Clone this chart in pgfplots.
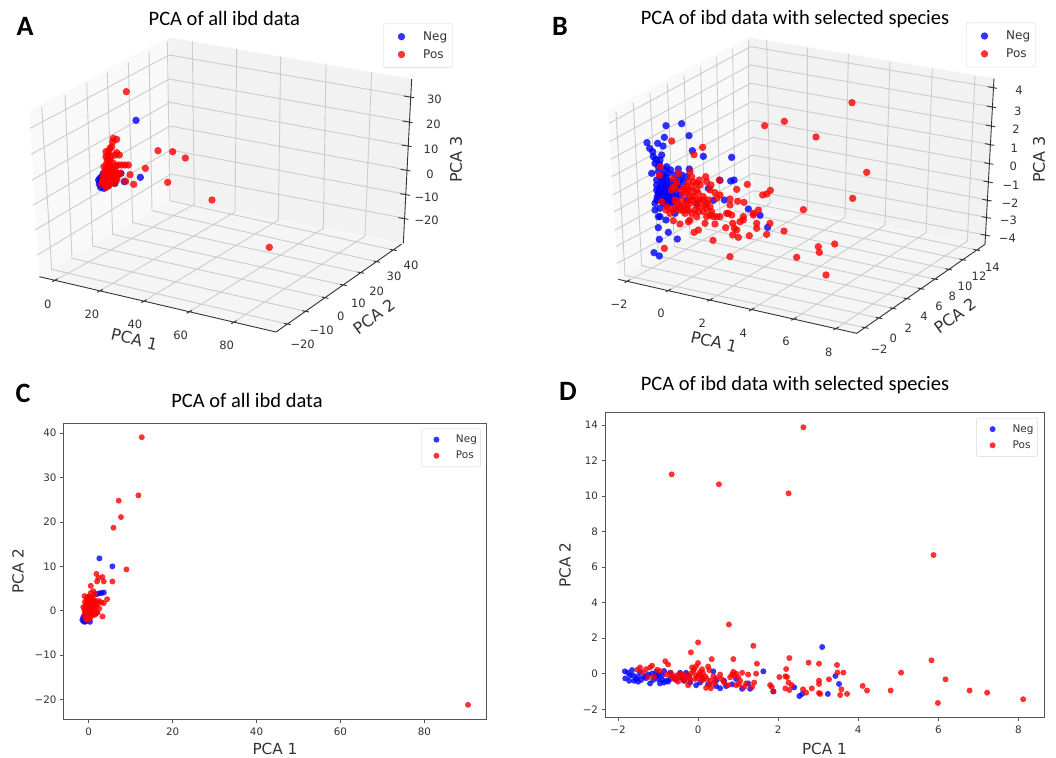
\documentclass[border=0pt]{standalone}
\usepackage{fontspec}
\usepackage{pgfplots}
\pgfplotsset{compat=1.18}
\setmainfont{DejaVu Sans}
\newfontfamily\calib{Carlito}
\definecolor{gridc}{HTML}{CCCCCC}
\definecolor{spine}{HTML}{555555}
\definecolor{tickc}{HTML}{333333}
\newcommand{\fs}[1]{\fontsize{#1}{#1}\selectfont}
\pgfplotsset{
  neg/.style={only marks, mark=*, color=blue, mark options={draw opacity=0, fill opacity=.8}},
  pos/.style={only marks, mark=*, color=red, mark options={draw opacity=0, fill opacity=.8}},
  lgd/.style n args={3}{legend cell align=left,
    legend image code/.code={\path[draw=none, fill=none] (0pt,-2pt) rectangle (#2,2pt); \draw[##1] plot coordinates {(#3,0pt)};},
    legend style={draw=black!16, rounded corners=2pt, font=\fs{#1}\color{tickc}, anchor=north east}},
  threed/.style={scale only axis, axis lines=none, y dir=reverse, clip=false, unbounded coords=jump,
    ymin=0, ymax=1110, xmin=0, height=370pt, anchor=south west},
  flat/.style={scale only axis, anchor=south west, axis line style={spine, line width=.9pt},
    tick style={spine, line width=.7pt}, major tick length=3.5pt, tick pos=left, tick align=outside,
    tick label style={font=\fs{10.3}\color{tickc}}, label style={font=\fs{15.3}\color{tickc}},
    xticklabel style={yshift=-1.5pt}},
  pane/.style={draw=none, fill=#1, forget plot},
  gl/.style={gridc, line width=.9pt, forget plot},
  ax/.style={tickc, line width=.9pt, forget plot},
}
\begin{document}
\begin{tikzpicture}
\fill[white] (0,0) rectangle (1056pt,-757pt);
\useasboundingbox (0,0) rectangle (1056pt,-757pt);

%%%%%% Panel A
\begin{axis}[threed, at={(0pt,-370pt)}, width=480pt, xmax=1440, lgd={12}{34.4pt}{14.7pt},
  legend style={at={(axis cs:1358,70)}, inner xsep=3.3pt, inner ysep=6pt, row sep=3.6pt}]
\addplot[pane=black!2.5] coordinates {(118,830)(88,332)(505,112)(515,600)} --cycle;
\addplot[pane=black!5] coordinates {(515,600)(505,112)(1235,237)(1210,730)} --cycle;
\addplot[pane=black!3.8] coordinates {(118,830)(515,600)(1205,732)(828,996)} --cycle;
\addplot[gl] coordinates {
(165,841)(583,613)(577,124)(nan,nan)
(300,872)(705,636)(710,147)(nan,nan)
(432,903)(835,660)(842,170)(nan,nan)
(568,935)(970,685)(978,193)(nan,nan)
(702,966)(1095,708)(1115,217)(nan,nan)
(862,972)(155,808)(125,320)(nan,nan)
(917,934)(216,775)(195,285)(nan,nan)
(975,893)(278,738)(260,250)(nan,nan)
(1030,855)(338,703)(322,218)(nan,nan)
(1082,818)(398,668)(385,188)(nan,nan)
(1130,785)(456,632)(447,155)(nan,nan)
(1180,750)(510,602)(502,125)(nan,nan)
(90,385)(508,165)(1232,290)(nan,nan)
(93,463)(508,237)(1228,365)(nan,nan)
(96,540)(510,307)(1225,437)(nan,nan)
(100,615)(510,378)(1222,510)(nan,nan)
(105,690)(512,450)(1220,583)(nan,nan)
(112,765)(513,522)(1215,655)
};
\addplot[ax] coordinates {(118,830)(828,996)(1205,732)(nan,nan)(1210,730)(1235,237)(nan,nan)
(157,845)(173,836)(nan,nan)(292,877)(308,868)(nan,nan)(424,908)(440,899)(nan,nan)(560,940)(576,931)(nan,nan)(694,971)(710,962)(nan,nan)
(852,970)(872,974)(nan,nan)(907,932)(927,936)(nan,nan)(965,891)(985,895)(nan,nan)(1020,853)(1040,857)(nan,nan)(1072,816)(1092,820)(nan,nan)(1120,783)(1140,787)(nan,nan)(1170,748)(1190,752)(nan,nan)
(1212,288)(1242,293)(nan,nan)(1208,363)(1238,368)(nan,nan)(1205,435)(1235,440)(nan,nan)(1202,508)(1232,513)(nan,nan)(1200,581)(1230,586)(nan,nan)(1195,653)(1225,658)
};
\addplot[neg, mark size=3.7pt] coordinates {
(300,545)(305,555)(298,552)(315,560)(310,520)(345,550)(363,520)(373,545)(421,532)(408,361)(330,550)(340,545)(305,530)(302,562)(296,540)(350,522)(312,565)(325,556)(300,535)};
\addlegendentry{Neg}
\addplot[pos, mark size=3.7pt] coordinates {
(379,275)(474,452)(518,455)(556,474)(436,505)(503,547)(401,553)(390,524)(377,544)(636,600)(808,742)
(340,415)(350,418)(338,425)(330,445)(318,455)(325,465)(350,458)(358,465)(330,480)(320,490)(340,490)(355,495)(385,495)(365,495)
(318,505)(330,505)(345,510)(315,515)(325,520)(335,520)(350,520)(310,530)(320,530)(330,530)(340,530)(350,530)(310,540)(318,540)
(328,540)(338,540)(345,542)(312,550)(320,550)(330,548)(308,545)(315,555)(355,525)(322,510)(338,500)(312,525)(325,498)(335,510)(318,470)
(326,455)(335,440)(322,478)(312,500)(348,498)(375,495)(360,520)(342,550)(325,558)(350,540)(305,552)(318,562)(326,490)(332,470)(345,465)};
\addlegendentry{Pos}
\foreach \x/\y/\t in {143/912/0,276/943/20,405/973/40,542/1006/60,680/1035/80,
  908/1033/−20,965/992/−10,1022/950/0,1075/910/10,1130/873/20,1182/830/30,1233/795/40,
  1303/298/30,1300/374/20,1293/448/10,1290/522/0,1280/592/−10,1280/662/−20}{
  \edef\tmp{\noexpand\node[font=\noexpand\fs{11.5}, text=tickc] at (axis cs:\x,\y) {\t};}\tmp}
\node[font=\fs{16}, text=tickc, rotate=-13] at (axis cs:403,1018) {PCA 1};
\node[font=\fs{16}, text=tickc, rotate=36] at (axis cs:1122,950) {PCA 2};
\node[font=\fs{16}, text=tickc, rotate=90] at (axis cs:1368,478) {PCA 3};
\node[font=\calib\fs{20.5}] at (axis cs:673,55) {PCA of all ibd data};
\node[font=\calib\bfseries\fs{28}] at (axis cs:75,80) {A};
\end{axis}

%%%%%% Panel B
\begin{axis}[threed, at={(540pt,-370pt)}, width=516pt, xmax=1548, lgd={12}{34.4pt}{14.7pt},
  legend style={at={(axis cs:1487,68)}, inner xsep=3.3pt, inner ysep=6pt, row sep=3.6pt}]
\addplot[pane=black!2.5] coordinates {(235,838)(205,330)(625,112)(640,600)} --cycle;
\addplot[pane=black!5] coordinates {(640,600)(625,112)(1362,235)(1335,733)} --cycle;
\addplot[pane=black!3.8] coordinates {(235,838)(640,600)(1335,733)(950,1000)} --cycle;
\addplot[gl] coordinates {
(262,844)(690,610)(680,121)(nan,nan)
(385,872)(802,632)(802,142)(nan,nan)
(510,900)(915,652)(925,162)(nan,nan)
(635,929)(1035,675)(1050,184)(nan,nan)
(762,957)(1158,698)(1177,205)(nan,nan)
(888,986)(1282,723)(1305,227)(nan,nan)
(975,983)(255,826)(228,335)(nan,nan)
(1017,954)(305,797)(280,308)(nan,nan)
(1059,925)(355,768)(330,280)(nan,nan)
(1101,896)(403,740)(382,252)(nan,nan)
(1143,866)(450,712)(432,225)(nan,nan)
(1184,837)(495,686)(482,200)(nan,nan)
(1226,808)(540,660)(530,172)(nan,nan)
(1268,779)(585,633)(578,147)(nan,nan)
(1310,750)(628,608)(625,122)(nan,nan)
(207,370)(632,140)(1358,262)(nan,nan)
(209,425)(632,195)(1355,320)(nan,nan)
(212,478)(632,250)(1352,377)(nan,nan)
(215,530)(635,305)(1350,433)(nan,nan)
(218,585)(635,360)(1347,490)(nan,nan)
(222,635)(637,412)(1345,545)(nan,nan)
(225,690)(637,465)(1342,600)(nan,nan)
(228,740)(638,520)(1340,652)(nan,nan)
(232,790)(640,572)(1337,705)
};
\addplot[ax] coordinates {(235,838)(950,1000)(1335,733)(nan,nan)(1335,733)(1362,235)(nan,nan)
(254,848)(270,839)(nan,nan)(377,876)(393,867)(nan,nan)(502,904)(518,895)(nan,nan)(627,933)(643,924)(nan,nan)(754,961)(770,952)(nan,nan)(880,990)(896,981)(nan,nan)
(965,981)(985,985)(nan,nan)(1007,952)(1027,956)(nan,nan)(1049,923)(1069,927)(nan,nan)(1091,894)(1111,898)(nan,nan)(1133,864)(1153,868)(nan,nan)(1174,835)(1194,839)(nan,nan)(1216,806)(1236,810)(nan,nan)(1258,777)(1278,781)(nan,nan)(1300,748)(1320,752)(nan,nan)
(1343,260)(1371,265)(nan,nan)(1340,318)(1368,323)(nan,nan)(1337,375)(1365,380)(nan,nan)(1335,431)(1363,436)(nan,nan)(1332,488)(1360,493)(nan,nan)(1330,543)(1358,548)(nan,nan)(1327,598)(1355,603)(nan,nan)(1325,650)(1353,655)(nan,nan)(1322,703)(1350,708)
};
\addplot[neg, mark size=3.7pt] coordinates {
(378,377)(425,371)(447,407)(373,412)(321,428)(329,445)(353,430)(369,438)(457,452)(490,469)(575,472)(340,470)(365,465)(345,490)(360,480)
(335,520)(355,515)(380,500)(415,507)(448,507)(385,520)(350,540)(370,545)(360,560)(380,555)(355,580)(375,575)(395,580)(365,600)(385,600)
(350,600)(345,630)(360,625)(400,590)(430,545)(425,525)(540,541)(572,543)(582,540)(505,565)(520,601)(553,600)(625,627)(660,646)(683,682)
(355,650)(378,660)(355,683)(385,697)(358,718)(412,717)(342,758)(358,768)(365,570)(375,590)(390,560)(350,555)(370,525)(415,620)(405,640)
(345,610)(360,650)(410,560)(440,600)(470,610)(390,610)(420,585)(360,590)(370,610)(385,570)(375,560)(395,600)(350,570)(365,540)(380,540)(400,570)(355,500)
(338,455)(348,478)(358,492)(372,508)(392,510)(405,525)(360,530)(378,530)(392,545)(405,545)(368,555)(358,570)(372,565)(382,582)(392,568)(408,578)(418,560)
(362,580)(372,600)(382,590)(398,610)(410,595)(352,590)(420,540)(440,530)(380,615)};
\addlegendentry{Neg}
\addplot[pos, mark size=3.7pt] coordinates {
(395,423)(488,442)(462,464)(361,500)(358,526)(936,308)(733,364)(674,377)(828,411)(980,517)(938,595)(790,629)(622,553)(691,571)(680,582)(668,585)
(590,568)(570,597)(593,604)(612,607)(540,585)(525,578)(538,540)(513,555)(497,530)(478,540)(450,515)(455,530)(400,535)(415,520)(410,550)(395,570)
(435,565)(455,560)(470,550)(440,580)(460,590)(480,600)(500,610)(480,620)(510,620)(450,610)(430,620)(410,610)(420,630)(440,625)(465,630)(490,635)
(510,645)(540,650)(378,630)(365,605)(380,620)(400,632)(565,640)(570,615)(575,645)(610,650)(640,645)(655,630)(600,665)(650,670)(650,685)(680,703)
(732,693)(690,670)(628,707)(595,712)(578,705)(583,685)(578,670)(557,683)(525,672)(495,670)(475,690)(462,697)(445,665)(450,660)(420,672)(400,662)
(519,721)(570,770)(373,745)(835,740)(838,757)(884,732)(770,772)(858,825)(640,640)(610,660)(560,640)(495,615)(470,570)(445,545)(425,600)(405,600)
(520,650)(500,650)(470,650)(455,640)(435,640)(390,640)(590,690)(430,580)(450,590)(470,600)(490,600)(440,610)(420,615)(400,560)
(445,570)(460,575)(475,580)(490,590)(505,600)(455,600)(470,615)(445,630)(430,632)(415,625)(395,625)(475,635)(500,625)(515,635)(530,650)(425,570)(440,560)
(460,545)(480,555)(500,545)(510,570)(530,595)(405,565)};
\addlegendentry{Pos}
\foreach \x/\y/\t in {237/913/−2,363/940/0,487/970/2,610/1000/4,738/1025/6,866/1057/8,
  1017/1048/−2,1060/1015/0,1105/985/2,1152/950/4,1197/920/6,1237/890/8,1275/860/10,1317/830/12,1357/802/14,
  1437/272/4,1433/333/3,1428/388/2,1423/445/1,1420/500/0,1413/555/−1,1410/610/−2,1405/662/−3,1402/716/−4}{
  \edef\tmp{\noexpand\node[font=\noexpand\fs{11.5}, text=tickc] at (axis cs:\x,\y) {\t};}\tmp}
\node[font=\fs{16}, text=tickc, rotate=-13] at (axis cs:522,1025) {PCA 1};
\node[font=\fs{16}, text=tickc, rotate=36] at (axis cs:1245,948) {PCA 2};
\node[font=\fs{16}, text=tickc, rotate=90] at (axis cs:1497,478) {PCA 3};
\node[font=\calib\fs{20.5}] at (axis cs:765,58) {PCA of ibd data with selected species};
\node[font=\calib\bfseries\fs{28}] at (axis cs:60,80) {B};
\end{axis}

%%%%%% Panel C
\begin{axis}[flat, at={(63.5pt,-719pt)}, width=423pt, height=296pt,
  xmin=-6, xmax=94.8, ymin=-24.4, ymax=42.3,
  xtick={0,20,40,60,80}, xticklabels={0,20,40,60,80},
  ytick={-20,-10,0,10,20,30,40}, yticklabels={−20,−10,0,10,20,30,40},
  xlabel={PCA 1}, ylabel={PCA 2}, xlabel style={yshift=-1pt}, ylabel style={yshift=4pt},
  lgd={10.5}{31pt}{13.5pt}, legend style={at={(axis cs:93.4,41.1)}, inner xsep=1.5pt, inner ysep=4.5pt, row sep=3pt}]
\addplot[neg, mark size=3pt] coordinates {
(-1.5,-2.1)(-1.2,-2.4)(-.9,-2.5)(.3,-2.5)(-1.3,-1.5)(-.8,-1.8)(2.4,3.9)(3.6,4.1)(3,4)(1.8,3.7)(-1,-1)(-.5,-2.3)(2.55,11.8)(5.65,10)};
\addlegendentry{Neg}
\addplot[pos, mark size=3pt] coordinates {
(12.65,39.1)(11.85,26)(7.16,24.8)(7.7,21.1)(5.9,18.7)(9,9.3)(5.65,6.6)(1.83,8.3)(3.26,7.6)(3.6,6.6)(2,6.6)(2.3,7.4)(.5,5.6)(4.4,2.6)(3.6,1.7)(3.3,-1.3)(90.4,-21.2)
(-1.3,.8)(-1,3.3)(-.9,2)(-.8,1)(-.7,.2)(-.6,-.5)(-.9,-1)(-.8,-1.7)(-.5,-2)(-.4,-1.3)(-.3,-.6)(-.2,.3)(-.1,1.2)(0,2.2)(.1,3.2)(.2,-1)(.3,0)(.3,1)(.4,2)(.5,4)
(.7,3)(.8,-.4)(.9,.6)(1,1.6)(1,2.7)(1.1,4.4)(1.2,-.8)(1.3,.3)(1.4,1.4)(1.6,3.8)(1.7,.9)(1.8,2)(1.9,-.5)(2.1,-.4)(2.2,1.6)(2.4,2.2)(2.5,.5)(3,1.9)(-.6,1.5)(-.5,2.7)
(-.4,.8)(-.2,-1.6)(-.1,-.3)(.1,.5)(.2,1.7)(.3,-1.9)(.5,-1.2)(.6,.3)(.6,1.3)(.8,2.2)(-1,0)(-.7,-.2)(-.3,3.1)(0,-.8)(.4,.4)(1.5,-.9)(1.5,2.3)
(-.6,-1.2)(-.2,-2)(.1,-1.6)(.6,-.6)(-.9,.5)(-.4,2)(.2,2.7)(.5,3)(1.2,1)(-.2,.8)(.9,-1)(.3,-.4)};
\addlegendentry{Pos}
\end{axis}
\node[font=\calib\fs{20.5}] at (247pt,-400pt) {PCA of all ibd data};
\node[font=\calib\bfseries\fs{28}] at (23pt,-393pt) {C};

%%%%%% Panel D
\begin{axis}[flat, at={(605pt,-717pt)}, width=439pt, height=304.3pt,
  xmin=-2.325, xmax=8.64, ymin=-2.44, ymax=14.69,
  xtick={-2,0,2,4,6,8}, xticklabels={−2,0,2,4,6,8},
  ytick={-2,0,2,4,6,8,10,12,14}, yticklabels={−2,0,2,4,6,8,10,12,14},
  xlabel={PCA 1}, ylabel={PCA 2}, xlabel style={yshift=-3pt}, ylabel style={yshift=5pt},
  lgd={10.5}{32pt}{14pt}, legend style={at={(axis cs:8.485,14.4)}, inner xsep=2pt, inner ysep=4.5pt, row sep=3pt}]
\addplot[neg, mark size=3pt] coordinates {
(3.1,1.5)(1.63,.13)(3.43,-.13)(3.52,-.58)(3.24,-1.14)(2.53,-1.26)(2.6,-1.14)(2.4,-.77)(1.88,-1)
(-1.83,.13)(-1.82,-.27)(-1.72,-.4)(-1.65,.2)(-1.62,-.1)(-1.55,-.3)(-1.5,-.45)(-1.45,.1)(-1.35,-.15)(-1.3,-.25)(-1.2,-.55)(-1.15,0)(-1.05,.1)(-1,-.3)(-.95,-.55)(-.9,-.1)(-.85,.15)
(-.8,-.4)(-.75,-.45)(-.7,.05)(-.6,-.2)(-.45,.05)(-.35,-.4)(-.3,.05)(-.25,-.1)(-.05,-.65)(.1,-.25)(.25,-.6)(.38,.13)(.45,-.7)(.55,-.82)(.65,-.4)(.85,-.6)(.95,-.3)(1.1,-.85)(1.3,-.85)(1.25,-.55)
(-1.7,-.1)(-1.75,.05)(-1.6,-.4)(-1.5,-.15)(-1.42,-.35)(-1.25,-.05)(-1.12,-.35)(-1.05,-.15)(-.98,-.05)(-.9,-.35)(-.85,-.5)(-.7,-.3)(-.55,-.35)(-.4,-.25)(-.2,-.5)(.05,-.5)(.45,-.4)(.7,-.7)};
\addlegendentry{Neg}
\addplot[pos, mark size=3pt] coordinates {
(.77,2.77)(0,1.76)(-.18,1.2)(1.38,1.57)(.88,.82)(1.47,.56)(.34,.82)(2.28,.88)(2.76,.62)(3.02,.56)(3.47,.49)(2.2,.26)(3.48,.06)(3.63,.06)(5.83,.75)(5.07,.06)(6.18,-.32)(6.78,-.95)(7.22,-1.07)
(8.12,-1.44)(5.99,-1.65)(4.81,-.95)(4.22,-.95)(4.11,-.69)(3.72,-1.14)(3.55,-1.2)(3.58,-.88)(3.27,-.32)(3.02,-.39)(3.02,-.58)(3.02,-1.09)(3.05,-1.14)(2.84,-.83)(2.7,-1.07)(2.62,-.88)
(2.03,-.19)(2.18,-.15)(2.22,-.19)(2.26,-.5)(2.34,-.64)(2.18,-.83)(2.28,-.92)(1.8,-.64)(1.84,-.75)(1.88,-1)
(-.66,11.22)(.52,10.66)(2.26,10.15)(2.63,13.87)(5.88,6.68)
(-1.45,.35)(-1.52,.22)(-1.38,.08)(-1.3,.25)(-1.25,-.2)(-1.2,.35)(-1.15,.45)(-1.1,-.18)(-1.02,.22)(-.95,.15)(-.82,.7)(-.75,.52)(-.78,-.05)(-.68,.05)(-.6,-.3)(-.55,-.1)(-.5,-.45)(-.45,-.2)
(-.38,-.05)(-.3,-.25)(-.25,-.65)(-.18,0)(-.15,.35)(-.12,.15)(-.08,-.3)(-.05,.42)(0,.6)(.02,-.05)(.05,.1)(.1,.25)(.12,-.35)(.18,-.15)(.2,-.8)(.25,.4)(.28,.2)(.32,-.4)(.38,-.15)(.4,-.55)(.32,-.82)
(.55,-.05)(.58,-.3)(.65,-.5)(.75,-.65)(.8,-.2)(.85,-.05)(.88,.1)(.95,0)(.95,-.65)(1,-.2)(1.05,-.4)(1.1,.05)(1.15,-.75)(1.2,-.55)(1.25,-.05)(1.35,-.75)(1.4,-.5)(1.45,0)(-.35,-.4)(-.2,-.35)(.1,-.35)
(-.65,-.15)(-.55,-.25)(-.45,-.05)(-.3,-.1)(-.22,-.2)(-.05,-.1)(.08,-.15)(.22,-.3)(.12,.05)(-.1,.25)(-.02,-.25)(.28,-.6)(.45,-.25)(.9,-.1)(1.02,-.6)};
\addlegendentry{Pos}
\end{axis}
\node[font=\calib\fs{20.5}] at (795pt,-385pt) {PCA of ibd data with selected species};
\node[font=\calib\bfseries\fs{28}] at (568pt,-391pt) {D};
\end{tikzpicture}
\end{document}
